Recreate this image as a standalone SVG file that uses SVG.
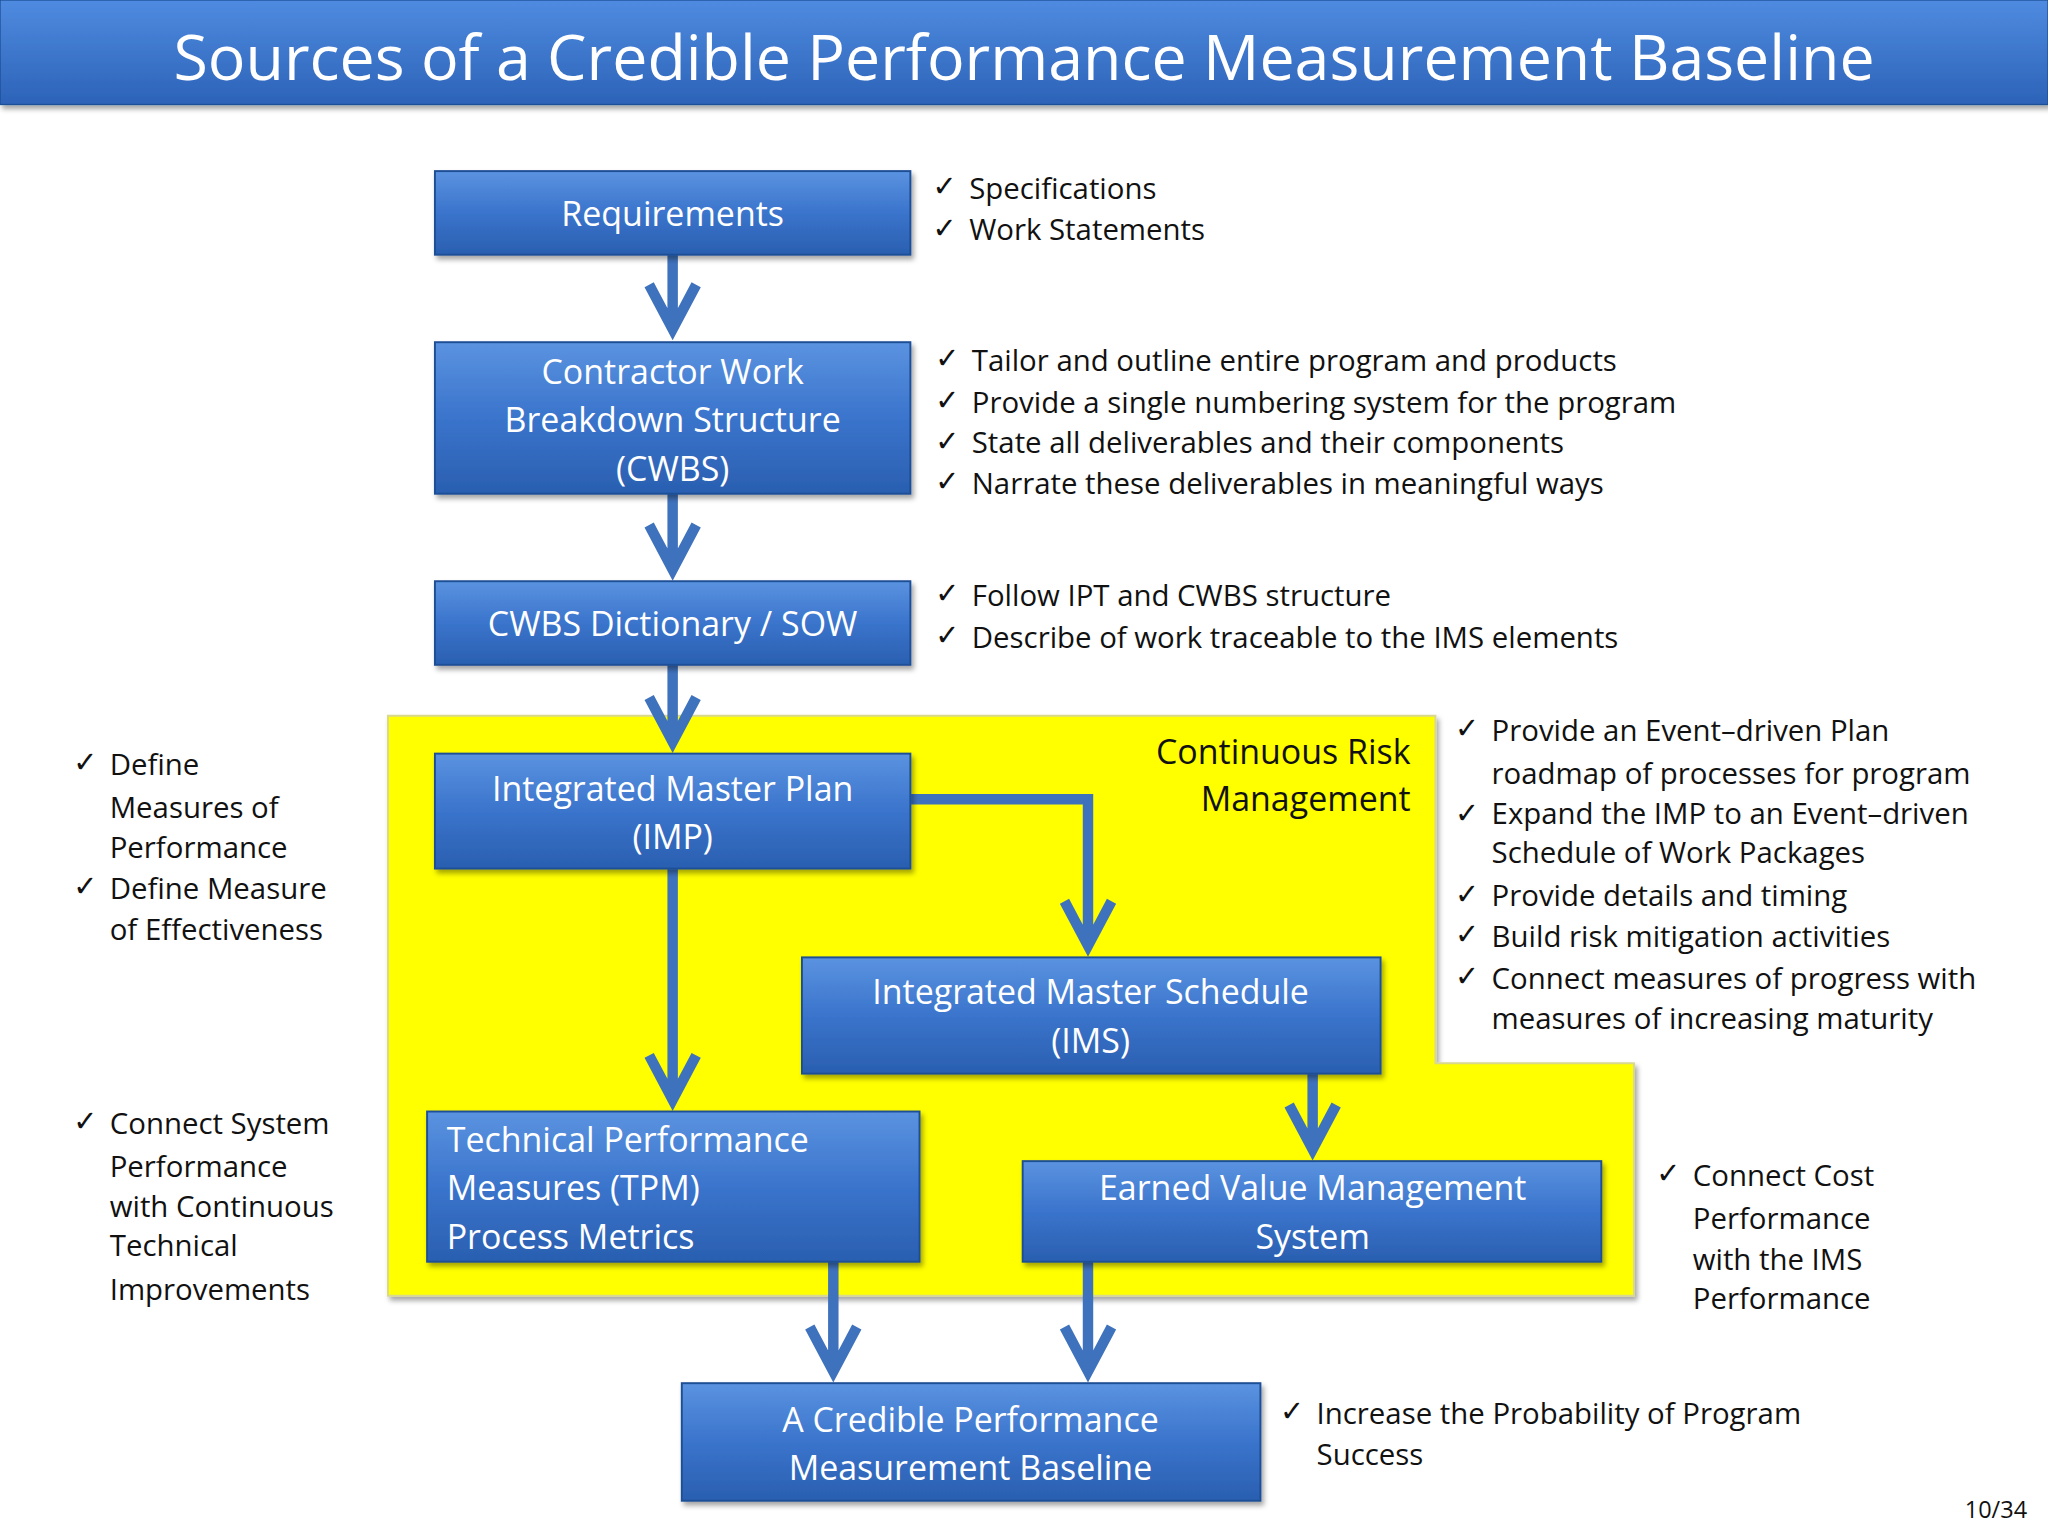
<svg xmlns="http://www.w3.org/2000/svg" width="2048" height="1536" viewBox="0 0 2048 1536">
<defs>
<linearGradient id="bg" x1="0" y1="0" x2="0" y2="1"><stop offset="0" stop-color="#5b93e0"/><stop offset="0.5" stop-color="#3a74cc"/><stop offset="1" stop-color="#2a5fb0"/></linearGradient>
<linearGradient id="tg" x1="0" y1="0" x2="0" y2="1"><stop offset="0" stop-color="#4f8be0"/><stop offset="1" stop-color="#2c63b8"/></linearGradient>
<filter id="sh" x="-5%" y="-5%" width="112%" height="120%"><feDropShadow dx="2" dy="3" stdDeviation="2" flood-color="#000" flood-opacity="0.35"/></filter>
</defs>
<style>
.box{fill:url(#bg);stroke:#1f4f96;stroke-width:1.5;filter:url(#sh)}
.bt{font-family:"Open Sans","Liberation Sans",sans-serif;font-size:26px;fill:#fff;text-anchor:middle}
.bl{font-family:"Open Sans","Liberation Sans",sans-serif;font-size:26px;fill:#fff}
.t{font-family:"Open Sans","Liberation Sans",sans-serif;font-size:22.5px;fill:#111}
.c{font-family:"DejaVu Sans",sans-serif;font-size:22px;fill:#111}
.ar{fill:none;stroke:#3f72bd;stroke-width:8;stroke-linejoin:miter}
</style>
<rect width="2048" height="1536" fill="#fff"/>
<g transform="scale(1.30612)">
<g id="title"><rect x="0" y="0" width="1568" height="80" fill="url(#tg)" stroke="#1f4f96" filter="url(#sh)"/>
<text x="784" y="61" font-family="'Open Sans','Liberation Sans',sans-serif" font-size="48" fill="#fff" text-anchor="middle">Sources of a Credible Performance Measurement Baseline</text></g>
<g id="risk"><path d="M297,548H1099V814H1251V992H297Z" fill="#ffff00" stroke="#d8d890" stroke-width="1.5" filter="url(#sh)"/>
<text x="1080" y="585" class="t" style="font-size:26px" text-anchor="end">Continuous Risk</text>
<text x="1080" y="621" class="t" style="font-size:26px" text-anchor="end">Management</text></g>
<g id="connectors">
<path class="ar" d="M515,195V252M497,218L515,252L533,218"/>
<path class="ar" d="M515,378V436M497,402L515,436L533,402"/>
<path class="ar" d="M515,509V568M497,534L515,568L533,534"/>
<path class="ar" d="M697,612H833V724M815,690L833,724L851,690"/>
<path class="ar" d="M515,665V842M497,808L515,842L533,808"/>
<path class="ar" d="M1005,822V880M987,846L1005,880L1023,846"/>
<path class="ar" d="M638,966V1050M620,1016L638,1050L656,1016"/>
<path class="ar" d="M833,966V1050M815,1016L833,1050L851,1016"/>
</g>
<g id="req"><rect class="box" x="333" y="131" width="364" height="64"/><text class="bt" x="515" y="173">Requirements</text></g>
<g id="cwbs"><rect class="box" x="333" y="262" width="364" height="116"/><text class="bt" x="515" y="294">Contractor Work</text><text class="bt" x="515" y="331">Breakdown Structure</text><text class="bt" x="515" y="368">(CWBS)</text></g>
<g id="dict"><rect class="box" x="333" y="445" width="364" height="64"/><text class="bt" x="515" y="487">CWBS Dictionary / SOW</text></g>
<g id="imp"><rect class="box" x="333" y="577" width="364" height="88"/><text class="bt" x="515" y="613">Integrated Master Plan</text><text class="bt" x="515" y="650">(IMP)</text></g>
<g id="ims"><rect class="box" x="614" y="733" width="443" height="89"/><text class="bt" x="835" y="769">Integrated Master Schedule</text><text class="bt" x="835" y="806">(IMS)</text></g>
<g id="tpm"><rect class="box" x="327" y="851" width="377" height="115"/><text class="bl" x="342" y="882">Technical Performance</text><text class="bl" x="342" y="919">Measures (TPM)</text><text class="bl" x="342" y="956">Process Metrics</text></g>
<g id="evms"><rect class="box" x="783" y="889" width="443" height="77"/><text class="bt" x="1005" y="919">Earned Value Management</text><text class="bt" x="1005" y="956">System</text></g>
<g id="pmb"><rect class="box" x="522" y="1059" width="443" height="90"/><text class="bt" x="743" y="1096">A Credible Performance</text><text class="bt" x="743" y="1133">Measurement Baseline</text></g>
<g id="notes">
<text class="c" x="714" y="150">✓</text><text class="t" x="742" y="152">Specifications</text>
<text class="c" x="714" y="182">✓</text><text class="t" x="742" y="184">Work Statements</text>
<text class="c" x="716" y="282">✓</text><text class="t" x="744" y="284">Tailor and outline entire program and products</text>
<text class="c" x="716" y="314">✓</text><text class="t" x="744" y="316">Provide a single numbering system for the program</text>
<text class="c" x="716" y="345">✓</text><text class="t" x="744" y="347">State all deliverables and their components</text>
<text class="c" x="716" y="376">✓</text><text class="t" x="744" y="378">Narrate these deliverables in meaningful ways</text>
<text class="c" x="716" y="462">✓</text><text class="t" x="744" y="464">Follow IPT and CWBS structure</text>
<text class="c" x="716" y="494">✓</text><text class="t" x="744" y="496">Describe of work traceable to the IMS elements</text>
<text class="c" x="1114" y="565">✓</text><text class="t" x="1142" y="567">Provide an Event–driven Plan</text>
<text class="t" x="1142" y="600">roadmap of processes for program</text>
<text class="c" x="1114" y="630">✓</text><text class="t" x="1142" y="631">Expand the IMP to an Event–driven</text>
<text class="t" x="1142" y="661">Schedule of Work Packages</text>
<text class="c" x="1114" y="692">✓</text><text class="t" x="1142" y="694">Provide details and timing</text>
<text class="c" x="1114" y="723">✓</text><text class="t" x="1142" y="725">Build risk mitigation activities</text>
<text class="c" x="1114" y="755">✓</text><text class="t" x="1142" y="757">Connect measures of progress with</text>
<text class="t" x="1142" y="788">measures of increasing maturity</text>
<text class="c" x="56" y="591">✓</text><text class="t" x="84" y="593">Define</text>
<text class="t" x="84" y="626">Measures of</text>
<text class="t" x="84" y="657">Performance</text>
<text class="c" x="56" y="686">✓</text><text class="t" x="84" y="688">Define Measure</text>
<text class="t" x="84" y="720">of Effectiveness</text>
<text class="c" x="56" y="866">✓</text><text class="t" x="84" y="868">Connect System</text>
<text class="t" x="84" y="901">Performance</text>
<text class="t" x="84" y="932">with Continuous</text>
<text class="t" x="84" y="962">Technical</text>
<text class="t" x="84" y="995">Improvements</text>
<text class="c" x="1268" y="906">✓</text><text class="t" x="1296" y="908">Connect Cost</text>
<text class="t" x="1296" y="941">Performance</text>
<text class="t" x="1296" y="972">with the IMS</text>
<text class="t" x="1296" y="1002">Performance</text>
<text class="c" x="980" y="1088">✓</text><text class="t" x="1008" y="1090">Increase the Probability of Program</text>
<text class="t" x="1008" y="1122">Success</text>
<text class="t" x="1552" y="1162" text-anchor="end" style="font-size:18px">10/34</text>
</g>
</g>
</svg>
